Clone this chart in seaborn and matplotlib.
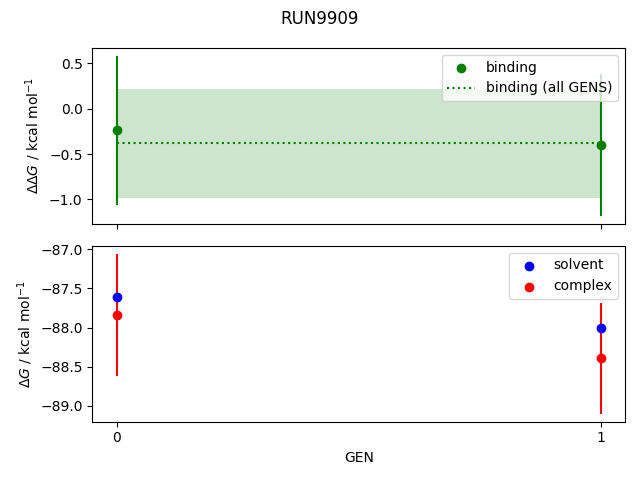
import numpy as np
import pandas as pd
import seaborn as sns
import matplotlib
matplotlib.use("Agg")
import matplotlib.pyplot as plt

gens = [0, 1]
binding = [-0.24, -0.40]
binding_err = [0.82, 0.78]
binding_all = -0.38
binding_all_err = 0.60
solvent = [-87.61, -88.01]
complex_ = [-87.84, -88.39]
complex_err = [0.78, 0.71]

df = pd.DataFrame({"GEN": gens, "binding": binding, "solvent": solvent, "complex": complex_})

fig, axes = plt.subplots(2, 1, sharex=True, figsize=(6.4, 4.8))

ax = axes[0]
ax.errorbar(df["GEN"], df["binding"], yerr=binding_err, fmt="none", ecolor="green")
sns.scatterplot(data=df, x="GEN", y="binding", color="green", s=36, linewidth=1, edgecolor="face",
                ax=ax, label="binding", zorder=3)
ax.plot(gens, [binding_all] * len(gens), color="green", ls=":", label="binding (all GENS)")
ax.fill_between(gens, binding_all - binding_all_err, binding_all + binding_all_err, color="green", alpha=0.2, lw=0)
ax.set_ylabel(r"$\Delta\Delta G$ / kcal mol$^{-1}$")
ax.set_xlabel("")
ax.legend(loc="upper right")

ax = axes[1]
ax.errorbar(df["GEN"], df["complex"], yerr=complex_err, fmt="none", ecolor="red")
sns.scatterplot(data=df, x="GEN", y="solvent", color="blue", s=36, linewidth=1, edgecolor="face",
                ax=ax, label="solvent", zorder=3)
sns.scatterplot(data=df, x="GEN", y="complex", color="red", s=36, linewidth=1, edgecolor="face",
                ax=ax, label="complex", zorder=3)
ax.set_ylabel(r"$\Delta G$ / kcal mol$^{-1}$")
ax.set_xlabel("GEN")
ax.set_xticks(gens)
ax.legend(loc="upper right")

fig.suptitle("RUN9909")
fig.tight_layout()
fig.savefig("out.png", dpi=100)
